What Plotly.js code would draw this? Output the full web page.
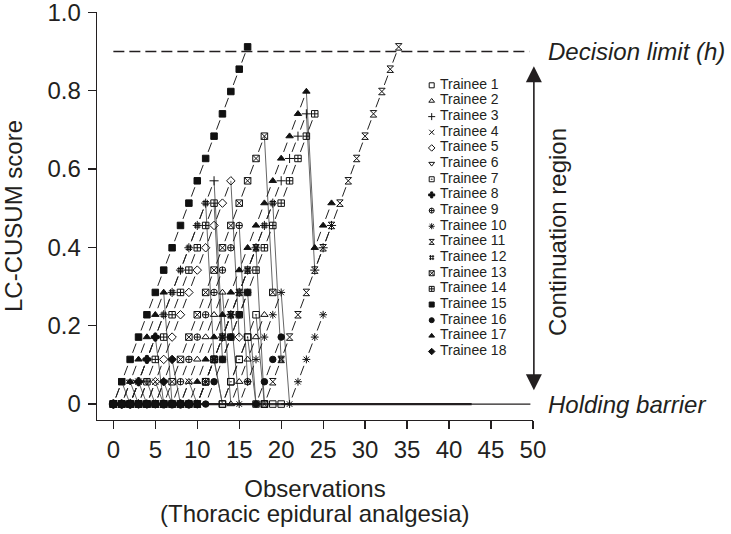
<!DOCTYPE html>
<html><head><meta charset="utf-8">
<script src="https://cdn.plot.ly/plotly-3.0.1.min.js"></script>
<style>html,body{margin:0;padding:0;background:#fff}#chart{width:731px;height:534px}</style>
</head><body><div id="chart"></div>
<script>
// Observation numbers (x)
const observations = [0,1,2,3,4,5,6,7,8,9,10,11,12,13,14,15,16,17,18,19,20,21,22,23,24,25,26,27,28,29,30,31,32,33,34];

const trainee1  = [0,0,0,0,0,0,0,0,0,0,0,.057,.114,0,.057,.114,.171,0,0,0,0];
const trainee2  = [0,0,0,0,0,0,0,0,0,.057,.114,.171,.228,.285,0,.057,.114,.171,.228];
const trainee3  = [0,0,0,.057,.114,.171,.228,.285,.342,.399,.456,.513,.57,.171,.228,.285,.342,.399,.456,.513,.57,.627,.684,.741,.342,.399,.456];
const trainee4  = [0,.057,0,.057,0,.057,0,0,0,.057,0];
const trainee5  = [0,0,0,0,0,.057,.114,.171,.228,.285,.342,.399,.456,.513,.57,.171];
const trainee6  = [0,0,.057,0,.057,0,.057,0,0];
const trainee7  = [0,0,0,0,0,0,0,0,0,0,0,.057,.114,0,.057,.114,.171,.228,0];
const trainee8  = [0,0,0,.057,.114,.171,0,0,0,0];
const trainee9  = [0,0,0,0,0,0,0,0,.057,.114,.171,.228,.285,.342,.399,.456,.057];
const trainee10 = [0,0,0,0,0,0,0,0,0,0,0,.057,.114,.171,.228,0,.057,.114,.171,.228,.285,0,.057,.114,.171,.228];
const trainee11 = [0,0,0,0,0,0,0,0,0,0,0,.057,.114,.171,.228,.285,.342,.399,0,.057,.114,.171,.228,.285,.342,.399,.456,.513,.57,.627,.684,.741,.798,.855,.912];
const trainee12 = [0,0,0,.057,.114,.171,.228,.285,.342,.399,.456,.513,.114,.171,.228,.285,.342,.399,.456,.513,.114];
const trainee13 = [0,0,0,0,0,0,0,.057,.114,.171,.228,.285,.342,.399,.456,.513,.57,.627,.684,.285];
const trainee14 = [0,0,0,0,.057,.114,.171,.228,.285,.342,.399,.456,.513,.114,.171,.228,.285,.342,.399,.456,.513,.57,.627,.684,.741];
const trainee15 = [0,.057,.114,.171,.228,.285,.342,.399,.456,.513,.57,.627,.684,.741,.798,.855,.912];
const trainee16 = [0,0,0,0,0,0,0,0,0,0,0,0,.057,.114,.171,.228,.285,0,.057,.114,.171];
const trainee17 = [0,0,.057,.114,.171,.228,.285,0,0,0,.057,.114,.171,.228,.285,.342,.399,.456,.513,.57,.627,.684,.741,.798,.399,.456,.513];
const trainee18 = [0,0,0,0,0,0,.057,.114,0,0,0];

const trainees = [trainee1,trainee2,trainee3,trainee4,trainee5,trainee6,trainee7,trainee8,trainee9,
                  trainee10,trainee11,trainee12,trainee13,trainee14,trainee15,trainee16,trainee17,trainee18];
const traineeNames = ['Trainee 1','Trainee 2','Trainee 3','Trainee 4','Trainee 5','Trainee 6','Trainee 7','Trainee 8','Trainee 9',
                      'Trainee 10','Trainee 11','Trainee 12','Trainee 13','Trainee 14','Trainee 15','Trainee 16','Trainee 17','Trainee 18'];
const traineeSymbols = ['square-open','triangle-up-open','cross-thin-open','x-thin-open','diamond-open','triangle-down-open',
                        'square-open-dot','cross','circle-cross-open','asterisk-open','hourglass-open','hash-open',
                        'square-x-open','square-cross-open','square','circle','triangle-up','diamond'];

const xTicks = [0,5,10,15,20,25,30,35,40,45,50];
const yTicks = [0,0.2,0.4,0.6,0.8,1.0];
const yTickLabels = ['0','0.2','0.4','0.6','0.8','1.0'];

const decisionLimit = 0.9;
const holdingBarrier = 0;
const decisionLineX = [0, 49.6];
const barrierLineX = [0, 49.7];
const barrierThickX = [0, 42.7];

const INK = '#231f20';
const FONT = 'Liberation Sans, Arial, Helvetica, sans-serif';

// split each trainee path into rising (dashed) and falling/flat (solid) segments
const rise = {x:[], y:[]}, fall = {x:[], y:[]};
trainees.forEach(s => {
  for (let i = 0; i < s.length - 1; i++) {
    const t = s[i+1] > s[i] ? rise : fall;
    t.x.push(observations[i], observations[i+1], null);
    t.y.push(s[i], s[i+1], null);
  }
});

const traces = [];
traces.push({x: barrierLineX, y: [holdingBarrier, holdingBarrier], mode:'lines', line:{color:INK, width:1.2}, hoverinfo:'skip'});
traces.push({x: barrierThickX, y: [holdingBarrier, holdingBarrier], mode:'lines', line:{color:INK, width:2.2}, hoverinfo:'skip'});
traces.push({x: decisionLineX, y: [decisionLimit, decisionLimit], mode:'lines', line:{color:INK, width:1.6, dash:'11px,5px'}, hoverinfo:'skip'});
traces.push({x: fall.x, y: fall.y, mode:'lines', line:{color:'#555', width:0.9}, connectgaps:false, hoverinfo:'skip'});
traces.push({x: rise.x, y: rise.y, mode:'lines', line:{color:'#222', width:1, dash:'0px,7px,10px,30px'}, connectgaps:false, hoverinfo:'skip'});

trainees.forEach((s, i) => {
  traces.push({
    x: observations.slice(0, s.length), y: s, name: traineeNames[i],
    mode:'markers',
    marker:{symbol: traineeSymbols[i], size:6.5, color:'#111', line:{color:'#111', width:1}}
  });
});

// custom compact legend on pixel-unit overlay axes
const legendMarkerX = 431.7, legendTextX = 440, legendTop = 85.3, legendStep = 15.66;
const legendRows = traineeNames.map((n, i) => legendTop + i * legendStep);
traces.push({
  x: traineeNames.map(() => legendMarkerX), y: legendRows, xaxis:'x2', yaxis:'y2',
  mode:'markers', hoverinfo:'skip',
  marker:{symbol: traineeSymbols, size:5, color:'#111', line:{color:'#111', width:1}}
});
traces.push({
  x: traineeNames.map(() => legendTextX), y: legendRows, xaxis:'x2', yaxis:'y2',
  mode:'text', text: traineeNames, textposition:'middle right', hoverinfo:'skip',
  textfont:{family:FONT, size:14, color:INK}
});

const layout = {
  width:731, height:534,
  margin:{l:97, r:198, t:12, b:114, pad:0},
  paper_bgcolor:'#fff', plot_bgcolor:'#fff',
  showlegend:false,
  font:{family:FONT, size:24, color:INK},
  xaxis:{
    range:[-1.95, 50.01], tickvals:xTicks, ticks:'outside', ticklen:8, tickwidth:1.2, tickcolor:INK,
    showline:true, linecolor:INK, linewidth:1.3, showgrid:false, zeroline:false,
    tickfont:{family:FONT, size:24, color:INK}, ticklabelstandoff:0, ticklabeloverflow:'allow',
    title:{text:'Observations', font:{family:FONT, size:24, color:INK}, standoff:18}
  },
  yaxis:{
    range:[-0.0407, 1.001], tickvals:yTicks, ticktext:yTickLabels, ticks:'outside', ticklen:8, tickwidth:1.2, tickcolor:INK,
    showline:true, linecolor:INK, linewidth:1.3, showgrid:false, zeroline:false,
    tickfont:{family:FONT, size:24, color:INK}, ticklabelstandoff:2, ticklabeloverflow:'allow',
    title:{text:'LC-CUSUM score', font:{family:FONT, size:24, color:INK}, standoff:20}
  },
  xaxis2:{overlaying:'x', range:[97,533], visible:false, fixedrange:true, anchor:'y2'},
  yaxis2:{overlaying:'y', range:[420,12], visible:false, fixedrange:true, anchor:'x2'},
  annotations:[
    {text:'(Thoracic epidural analgesia)', xref:'paper', yref:'paper', x:0.5, y:-0.229, xanchor:'center', yanchor:'middle',
     showarrow:false, font:{family:FONT, size:24, color:INK}},
    {text:'<i>Decision limit (h)</i>', xref:'paper', yref:'y', x:1.031, y:decisionLimit, xanchor:'left', yanchor:'middle',
     showarrow:false, borderpad:0, font:{family:FONT, size:24, color:INK}},
    {text:'<i>Holding barrier</i>', xref:'paper', yref:'y', x:1.031, y:holdingBarrier, xanchor:'left', yanchor:'middle',
     showarrow:false, borderpad:0, font:{family:FONT, size:24, color:INK}},
    {text:'Continuation region', xref:'paper', yref:'y', x:1.055, y:0.439, xanchor:'center', yanchor:'middle', textangle:-90,
     showarrow:false, borderpad:0, font:{family:FONT, size:24, color:INK}},
    {text:'', xref:'paper', yref:'y', x:1.002, y:0.0355, axref:'pixel', ax:0, ayref:'y', ay:0.8665,
     showarrow:true, arrowside:'end+start', arrowhead:2, startarrowhead:2, arrowsize:2, startarrowsize:2,
     arrowwidth:1.6, arrowcolor:INK}
  ]
};

Plotly.newPlot('chart', traces, layout, {displayModeBar:false, staticPlot:true});
</script>
</body></html>
